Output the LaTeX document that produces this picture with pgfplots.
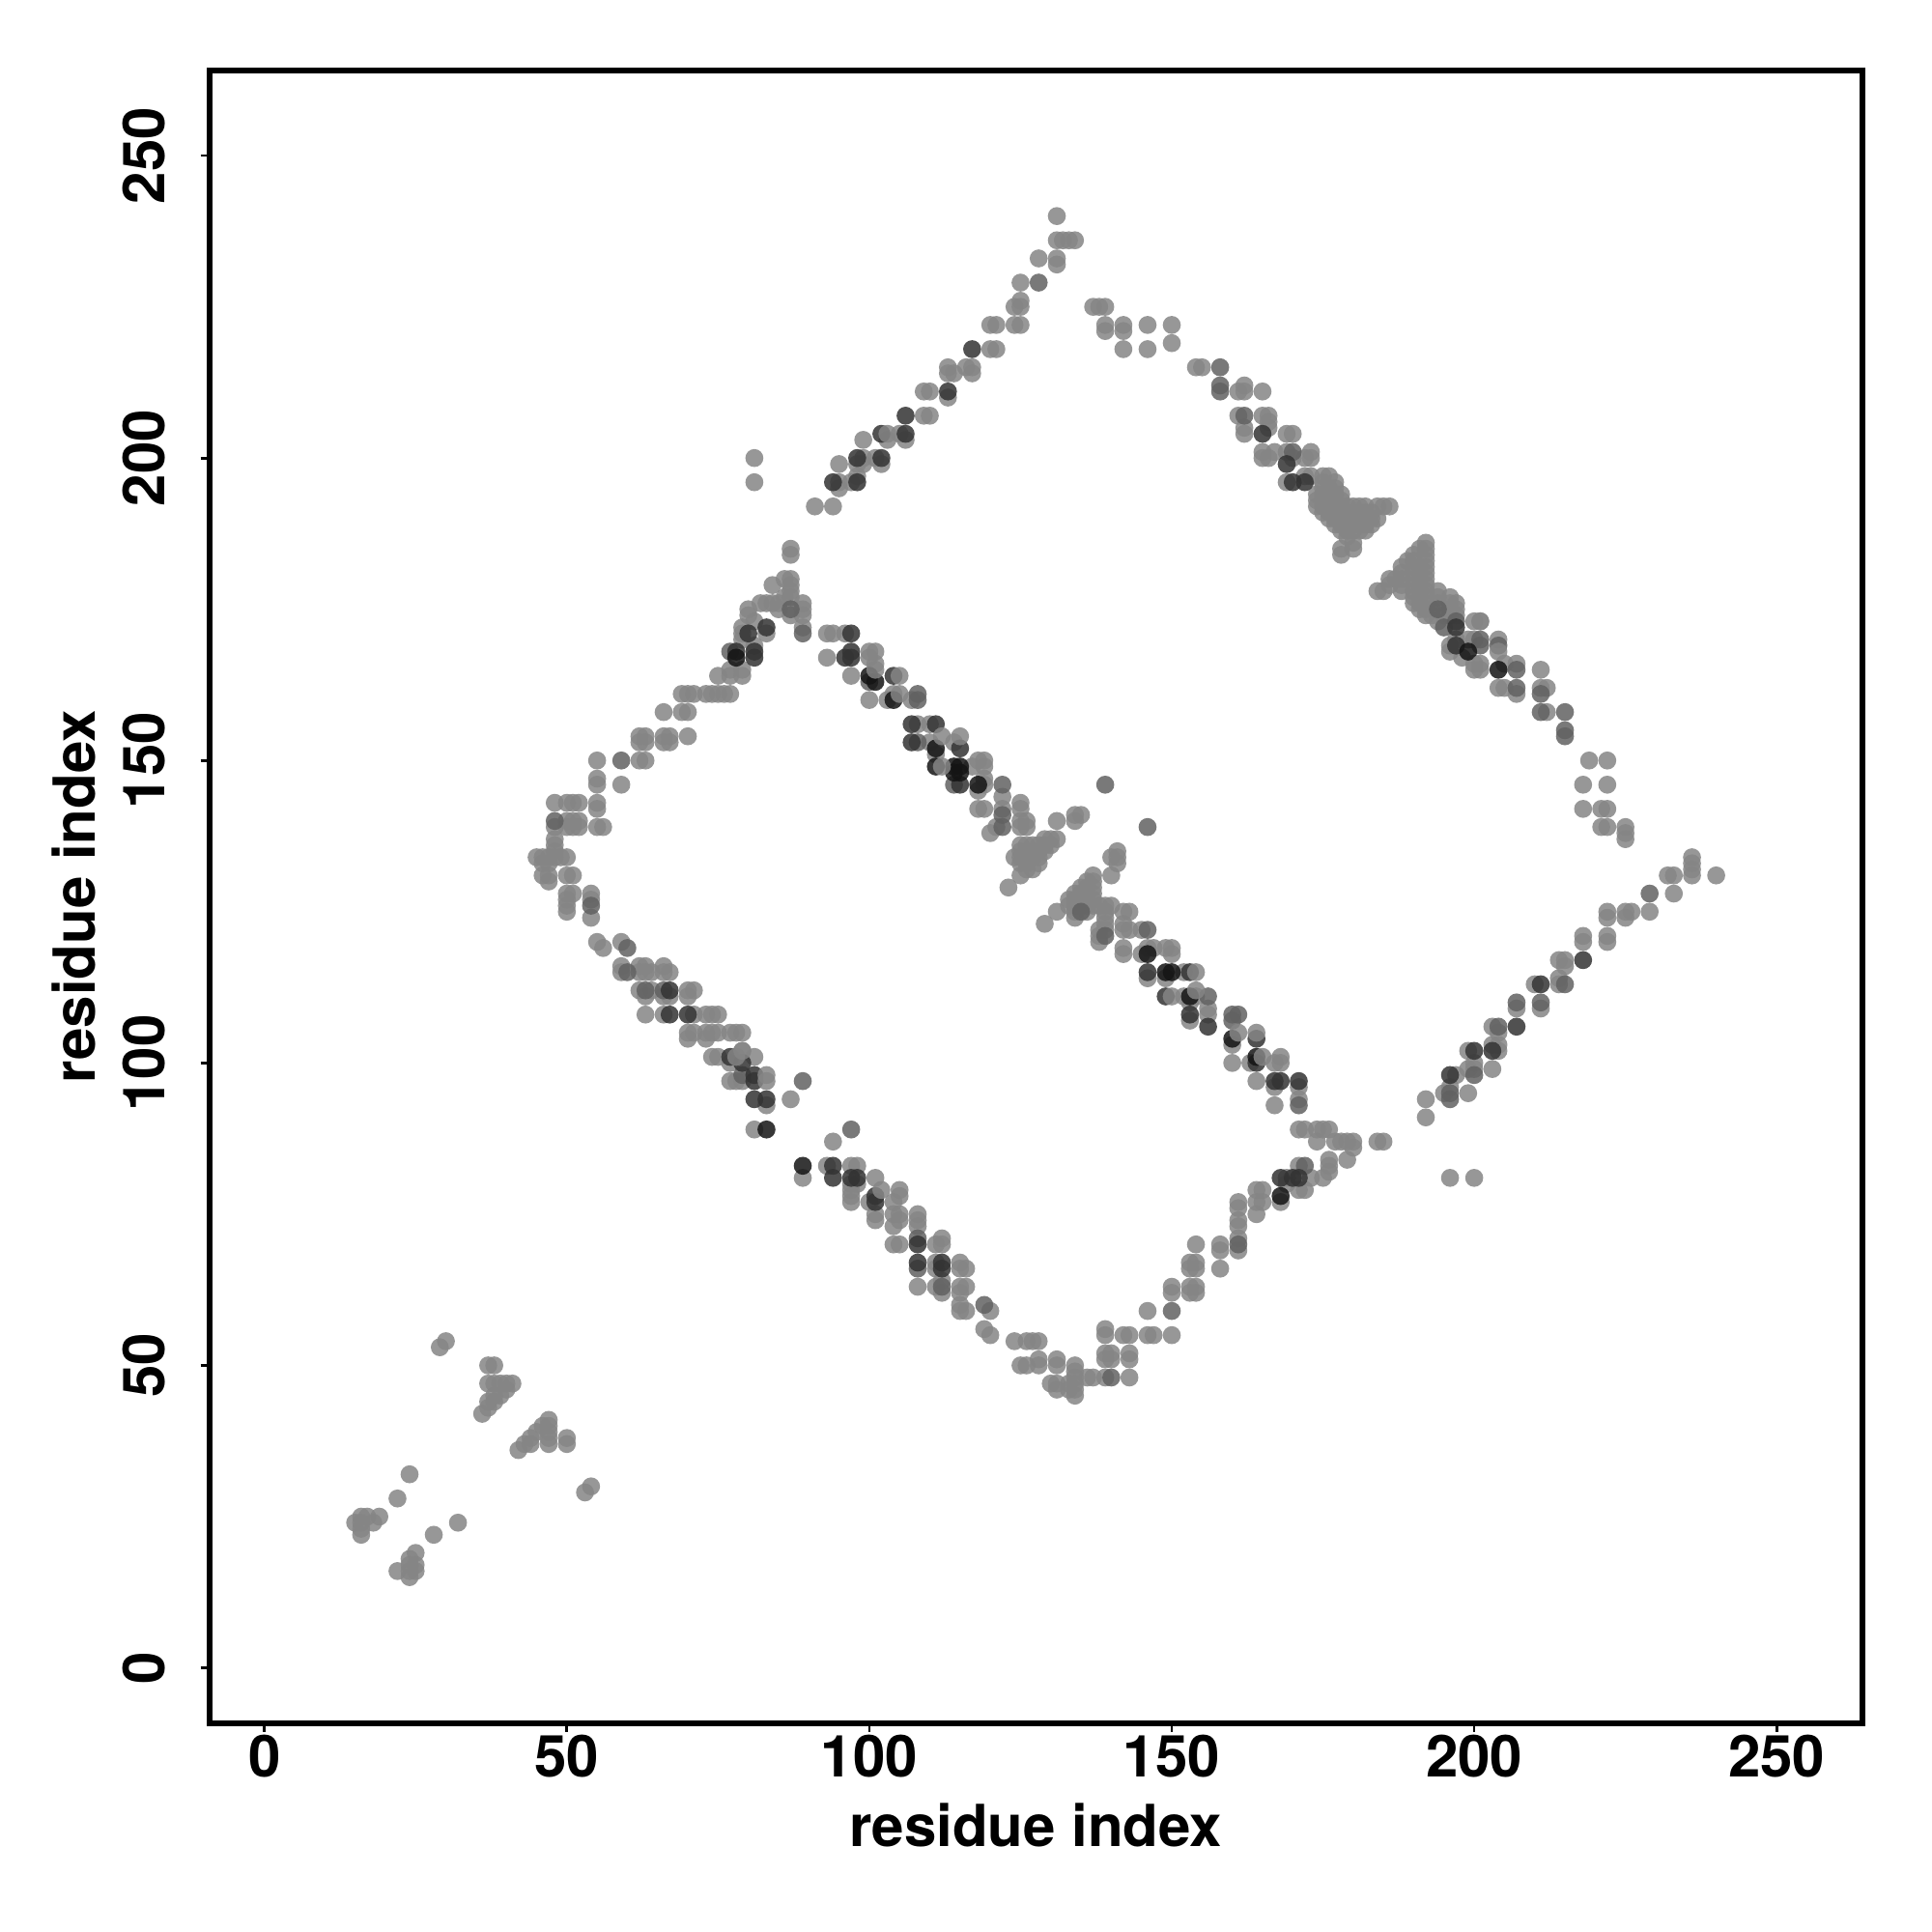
\documentclass[border=0pt]{standalone}
\usepackage{fontspec}
\setmainfont{TeX Gyre Heros}
\usepackage{pgfplots}
\pgfplotsset{compat=1.18}
\definecolor{cL}{gray}{0.52}
\definecolor{cM}{gray}{0.38}
\definecolor{cD}{gray}{0.20}
\definecolor{cK}{gray}{0.08}
\pgfplotsset{
 pt/.style={only marks,mark=*,mark size=2.33pt,color=#1,mark options={solid,draw=#1,fill=#1,line width=0pt,draw opacity=0,fill opacity=0.85}},
}
\begin{document}
\begin{tikzpicture}
\path[use as bounding box] (0,0) rectangle (500pt,500pt);
\begin{axis}[
 at={(54.15pt,54.08pt)},anchor=south west,
 scale only axis,width=427.75pt,height=427.75pt,
 xmin=-9.12,xmax=264.12,ymin=-9.12,ymax=264.12,
 xtick={0,50,...,250},ytick={0,50,...,250},
 tick align=outside,xtick pos=bottom,ytick pos=left,
 major tick length=2.25pt,
 tick style={line width=0.67pt,black},
 axis line style={line width=1.5pt,black},
 /pgf/number format/assume math mode=true,
 tick label style={font=\fontsize{15}{17}\selectfont\bfseries},
 xticklabel style={anchor=base},
 yticklabel style={rotate=90,anchor=base},
 xticklabel shift=11.75pt,
 yticklabel shift=9.2pt,
 label style={font=\fontsize{15}{17}\selectfont\bfseries},
 xlabel={residue index},ylabel={residue index},
 xlabel style={at={(axis description cs:0.5,-0.0745)},anchor=base},
 ylabel style={at={(axis description cs:-0.06897,0.5)},anchor=base},
]
% light base
\addplot[pt=cL] coordinates {
(30,54)(29,53)(37,50)(38,50)(37,47)(38,47)(39,47)(40,47)(41,47)(40,46)(39,45)(38,45)(37,44)(38,44)(37,43)(36,42)(47,41)(47,40)(46,40)(47,39)(45,39)(47,38)(44,38)(47,37)(44,37)(43,37)(42,36)(50,38)(50,37)(54,30)(53,29)(24,32)(22,28)(15,24)(16,25)(17,25)(19,25)(18,24)(16,24)(16,23)(16,22)(32,24)(28,22)(25,19)(24,18)(25,17)(24,17)(25,16)(24,16)(22,16)(24,15)
(55,150)(62,150)(63,150)(55,147)(55,146)(59,146)(48,143)(50,143)(51,143)(52,143)(55,143)(55,142)(48,139)(50,140)(51,140)(52,140)(50,139)(51,139)(52,139)(55,139)(56,139)(48,137)(48,136)(48,135)(45,134)(46,134)(47,134)(48,134)(49,134)(50,134)(46,133)(47,133)(46,131)(47,131)(47,130)(50,131)(51,131)(50,128)(51,128)(50,127)(50,126)(50,125)(54,128)(54,127)(54,124)(55,120)(56,119)(59,120)(59,116)(59,115)(62,116)(63,116)(62,115)(63,115)(64,115)(66,116)(67,115)(66,115)
(62,112)(64,112)(63,111)(66,111)(67,111)(70,112)(71,112)(70,111)(63,108)(66,108)(71,108)(73,108)(74,108)(75,108)(70,105)(71,105)(70,104)(73,105)(74,105)(75,105)(73,104)(77,105)(78,105)(79,105)(74,101)(75,101)(78,101)(79,102)(81,101)(77,100)(77,97)(78,97)(79,97)(83,93)(87,94)(81,89)
(89,81)(93,83)(94,87)(97,83)(98,83)(97,80)(97,79)(97,78)(97,77)(98,80)(101,81)(100,77)(101,75)(101,74)(105,79)(105,78)(104,77)(105,75)(105,74)(104,75)(104,73)(105,70)(104,70)(108,75)(108,74)(108,73)(111,70)(112,71)(112,70)(108,63)(111,67)(111,66)(115,67)(116,66)(115,66)(115,63)(116,63)(115,62)(112,64)(111,63)(112,62)(115,60)(115,59)(116,59)(120,59)(119,56)(120,55)
(124,54)(126,54)(127,54)(128,54)(125,50)(126,50)(128,51)(128,50)(131,51)(131,50)(130,47)(131,47)(131,46)(134,50)(134,49)(134,48)(134,47)(134,46)(134,45)(133,47)(133,46)(136,48)(137,48)(139,48)(143,48)(139,56)(139,55)(142,55)(143,55)(139,52)(140,52)(139,51)(140,51)(143,52)(143,51)(146,55)(147,55)(150,55)(146,59)(150,63)(150,62)(154,70)(153,67)(154,67)(153,66)(154,66)(153,63)(154,63)(153,62)(154,62)(158,70)(158,69)(158,66)(161,77)(161,76)(161,74)(161,73)(161,71)(161,69)
(164,79)(165,79)(164,77)(165,77)(164,75)(168,77)(169,81)(171,83)(171,79)(172,79)(173,81)(175,81)(176,84)(176,83)(176,82)(179,84)(171,89)(172,89)(174,89)(175,89)(176,89)(174,87)(177,87)(178,87)(179,87)(180,87)(180,86)(184,87)(185,87)(169,80)
(192,94)(192,91)(196,81)(200,81)(195,95)(199,95)(196,96)(197,98)(199,102)(199,99)(200,100)(200,99)(203,103)(204,103)(204,105)(203,106)(204,102)(203,99)(207,109)(211,109)(210,113)(214,114)(214,113)(214,117)(215,117)(215,116)(218,121)(218,120)(222,125)(222,124)(222,121)(222,120)(225,125)(225,124)(226,125)(229,125)(233,128)(232,131)(233,131)(236,134)(236,133)(236,132)(236,131)(240,131)
(93,167)(93,171)(94,171)(96,171)(97,164)(100,168)(100,167)(101,166)(100,160)(103,160)(107,160)(104,161)(108,156)(110,156)(110,153)(111,151)(114,153)(117,149)(119,150)(119,147)(119,146)(118,145)(122,144)(122,142)(118,142)(119,142)(125,143)(125,142)(126,140)(126,139)(125,140)(125,139)(121,139)(120,138)
(123,129)(125,131)(124,134)(125,134)(125,136)(126,135)(127,136)(128,136)(129,137)(130,137)(131,137)(125,135)(127,134)(128,133)(127,132)(126,133)(126,134)(127,135)(128,135)(129,135)(129,136)(128,134)(126,136)(125,133)(126,132)(130,136)(131,140)(134,140)(134,141)(135,141)
(141,135)(140,134)(141,134)(141,133)(140,131)(137,131)(137,130)(137,129)(137,128)(137,127)(137,126)(136,130)(136,129)(136,128)(135,129)(135,128)(135,127)(134,128)(134,127)(134,126)(134,125)(134,124)(133,127)(133,126)(131,125)(129,123)(135,126)(136,126)(136,125)(138,126)(139,126)(140,126)(139,125)(139,124)(139,123)(139,122)(138,121)(138,120)(138,122)(142,125)(143,125)(142,122)(143,122)(145,122)(142,119)(142,118)(145,118)(147,119)(149,119)(150,119)(150,118)(146,119)(152,115)(149,114)(146,114)(152,111)(154,111)(153,110)(156,109)(156,108)(153,107)(160,103)(160,100)(163,100)(168,100)(167,100)(164,97)(167,96)(171,96)(171,94)(167,93)(142,123)
(62,154)(63,154)(62,153)(63,153)(66,154)(67,154)(66,153)(67,153)(70,154)(66,158)(69,158)(70,158)(69,161)(70,161)(71,161)(73,161)(74,161)(75,161)(76,161)(77,161)(75,164)(77,165)(77,164)(79,165)(79,164)(79,172)(79,171)(79,170)(81,169)(83,171)(81,173)(80,175)(83,176)(84,176)(84,179)(86,180)(87,180)(87,179)(87,178)(87,185)(87,184)(85,175)(87,174)(89,176)(89,175)(89,174)(89,172)(80,174)(82,176)(85,176)(86,177)(87,177)
(131,240)(131,236)(132,236)(133,236)(134,236)(131,233)(131,232)(128,233)(125,229)(125,226)(124,225)(125,225)(125,222)(124,222)(120,222)(121,222)(120,218)(121,218)(116,215)(117,215)(117,214)(113,215)(113,214)(109,211)(110,211)(113,210)(109,207)(110,207)(105,204)(99,203)(103,203)(106,203)(99,200)(101,200)(102,199)(98,199)(99,199)(95,199)(98,197)(97,196)(95,196)(95,195)(94,192)(91,192)(81,200)(81,196)
(137,225)(138,225)(139,225)(139,222)(139,221)(142,222)(142,221)(146,222)(142,218)(146,218)(150,222)(150,219)(154,215)(155,215)(161,211)(162,212)(162,211)(165,211)(161,207)(165,207)(166,207)(166,206)(166,205)(162,205)(162,204)(165,201)(165,200)(167,201)(166,200)(169,204)(170,204)(169,201)(170,200)(172,200)(173,201)(173,200)(169,196)(173,197)(172,197)
(175,197)(176,197)(177,196)(178,194)(175,196)(174,194)(174,192)(175,192)(176,190)(177,192)(178,192)(179,192)(180,192)(181,192)(182,192)(184,192)(185,192)(186,192)(184,190)(176,193)(177,193)(178,188)(180,188)(182,188)(178,185)(178,184)(179,187)(180,186)(180,185)(177,191)(178,191)(179,191)(180,191)(181,191)(182,191)(183,191)(183,190)(178,190)(179,190)(180,190)(181,190)(182,190)(177,190)(177,189)(178,189)(179,189)(180,189)(181,189)(182,189)(183,189)(179,188)(181,188)(176,195)(175,195)(177,195)(176,191)(175,191)(174,193)(175,193)(175,194)(176,194)(177,194)(178,193)
(192,186)(192,185)(191,185)(190,184)(190,183)(189,183)(192,184)(192,183)(192,182)(192,181)(192,180)(192,179)(192,178)(192,177)(192,176)(192,175)(190,182)(190,181)(190,180)(190,179)(190,178)(190,177)(190,176)(191,182)(191,180)(191,178)(191,176)(188,182)(188,181)(188,180)(188,179)(188,178)(184,178)(185,178)(186,180)(186,179)(187,180)(194,178)(194,177)(194,176)(196,177)(197,176)(196,176)(196,175)(197,175)(193,175)(191,175)(192,174)(193,174)(194,173)(195,174)(196,174)(197,174)(200,173)(201,173)
(196,169)(200,170)(200,166)(200,165)(201,165)(204,170)(205,166)(207,166)(205,162)(207,161)(204,162)(197,170)(198,167)(196,168)(199,170)
(211,165)(211,162)(212,162)(212,158)(219,150)(222,150)(218,146)(222,146)(218,142)(221,142)(222,142)(221,139)(222,139)(225,139)(225,138)(225,137)
};
% medium
\addplot[pt=cM] coordinates {
(59,150)(48,140)(54,126)(60,119)(60,115)(63,112)(66,112)(79,98)(89,97)(97,89)(108,71)(108,66)(112,63)(119,60)(140,48)(150,59)(161,70)(172,83)
(196,95)(196,94)(200,98)(204,106)(207,110)(211,110)(215,113)(229,128)
(100,163)(108,161)(108,160)(108,153)(114,146)(122,146)(122,141)(122,139)(139,146)(146,139)
(139,121)(146,122)(156,111)(160,108)(161,108)(160,107)(171,93)(135,125)
(77,168)(89,171)(87,175)(128,229)
(158,215)(158,212)(158,211)(162,207)(170,201)(194,175)(195,172)(197,173)(201,170)(201,169)(204,169)(207,165)(207,162)
(211,161)(211,158)(215,158)(215,155)(215,154)
};
% dark
\addplot[pt=cD] coordinates {
(67,112)(67,108)(70,108)(77,101)(79,100)(81,98)(81,97)(81,94)(83,94)
(94,83)(94,81)(97,81)(98,81)(101,78)(101,77)(108,70)(108,67)(112,67)(112,66)
(168,81)(170,81)(171,81)
(196,98)(200,102)(203,102)(207,106)(211,113)(218,117)
(97,171)(96,167)(97,168)(97,167)(107,156)(111,156)(107,153)(104,164)(115,152)(115,146)
(146,115)(153,115)(149,111)(156,106)(164,104)(164,100)(167,97)(168,97)(171,97)(153,108)
(78,168)(81,168)(80,171)(83,172)(81,167)
(117,218)(113,211)(106,207)(102,204)(106,204)(98,200)(98,196)(94,196)(102,200)
(165,204)(169,199)(170,196)(172,196)(197,172)(197,169)
};
% very dark
\addplot[pt=cK] coordinates {
(83,89)(89,83)(168,78)
(100,164)(101,163)(104,160)(111,152)(111,149)(114,149)(115,149)(114,148)(118,146)(115,148)
(146,118)(149,115)(150,115)(153,111)(160,104)(164,101)(78,167)
(199,168)(204,165)
};
% light points lying on top
\addplot[pt=cL] coordinates {
(83,98)(83,97)(79,102)(78,101)(102,79)
(101,168)(105,164)(105,161)(112,154)(112,149)(115,154)(118,150)(119,149)(101,165)
(154,115)(150,111)(154,112)(161,105)(164,105)(165,101)(168,101)
(114,214)(103,204)(201,166)(201,173)(204,168)
};
\end{axis}
\end{tikzpicture}
\end{document}
